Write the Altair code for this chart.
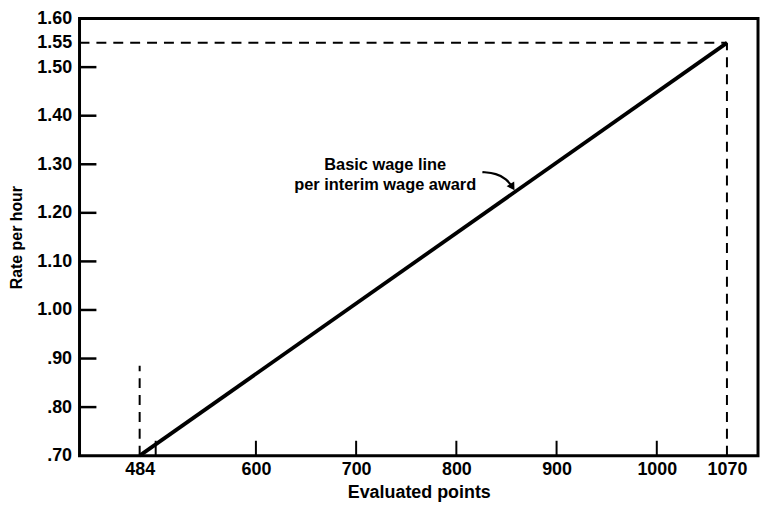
import altair as alt
import pandas as pd

# Data
line_x = [484, 1070]
line_y = [0.70, 1.55]
x_label_values = [484, 600, 700, 800, 900, 1000, 1070]
x_tick_values = [500, 600, 700, 800, 900, 1000]
y_label_values = [0.70, 0.80, 0.90, 1.00, 1.10, 1.20, 1.30, 1.40, 1.50, 1.55, 1.60]
y_tick_values = [0.80, 0.90, 1.00, 1.10, 1.20, 1.30, 1.40, 1.50]
note_lines = ["Basic wage line", "per interim wage award"]
note_x = [729, 729]
note_y = [1.298, 1.257]
arrow_x = [826, 840, 850, 856]
arrow_y = [1.284, 1.281, 1.270, 1.253]

X_DOMAIN = [424, 1101]
Y_DOMAIN = [0.70, 1.60]
FONT = "Liberation Sans"

xs = alt.Scale(domain=X_DOMAIN, nice=False, zero=False)
ys = alt.Scale(domain=Y_DOMAIN, nice=False, zero=False)

main_df = pd.DataFrame({"x": line_x, "y": line_y})

base_axes = alt.Chart(main_df).mark_line(color="black", strokeWidth=3.8).encode(
    x=alt.X("x:Q", scale=xs, title="Evaluated points",
            axis=alt.Axis(values=x_label_values, format="d", ticks=False, domain=False, grid=False,
                          labelFont=FONT, labelFontSize=18, labelFontWeight="bold",
                          labelColor="black", labelPadding=5, labelFlush=False,
                          labelOverlap=False,
                          titleFont=FONT, titleFontSize=18, titleFontWeight="bold",
                          titleColor="black", titlePadding=5)),
    y=alt.Y("y:Q", scale=ys, title="Rate per hour",
            axis=alt.Axis(values=y_label_values, ticks=False, domain=False, grid=False,
                          labelExpr="datum.value >= 1 ? format(datum.value, '.2f') : replace(format(datum.value, '.2f'), '0.', '.')",
                          labelFont=FONT, labelFontSize=18, labelFontWeight="bold",
                          labelColor="black", labelPadding=8, labelFlush=False,
                          labelOverlap=False,
                          titleFont=FONT, titleFontSize=16, titleFontWeight="bold",
                          titleColor="black", titlePadding=12)),
)

ytick_df = pd.DataFrame({"y": y_tick_values})
yticks = alt.Chart(ytick_df).mark_rule(color="black", strokeWidth=2.5).encode(
    y=alt.Y("y:Q", scale=ys), x=alt.value(0), x2=alt.value(17))

xtick_df = pd.DataFrame({"x": x_tick_values})
xticks = alt.Chart(xtick_df).mark_rule(color="black", strokeWidth=2).encode(
    x=alt.X("x:Q", scale=xs), y=alt.value(440), y2=alt.value(425))

dash = [10, 7]
h_df = pd.DataFrame({"x": [X_DOMAIN[0]], "x2": [line_x[1]], "y": [line_y[1]]})
hdash = alt.Chart(h_df).mark_rule(color="black", strokeWidth=2, strokeDash=dash).encode(
    x=alt.X("x:Q", scale=xs), x2="x2:Q", y=alt.Y("y:Q", scale=ys))

v_df = pd.DataFrame({"x": [484, 1070], "y": [0.70, 0.70], "y2": [0.885, 1.55]})
vdash = alt.Chart(v_df).mark_rule(color="black", strokeWidth=2, strokeDash=dash).encode(
    x=alt.X("x:Q", scale=xs), y=alt.Y("y:Q", scale=ys), y2="y2:Q")

note_df = pd.DataFrame({"x": note_x, "y": note_y, "t": note_lines})
note = alt.Chart(note_df).mark_text(font=FONT, fontSize=16.5, fontWeight="bold",
                                    color="black", align="center", baseline="middle").encode(
    x=alt.X("x:Q", scale=xs), y=alt.Y("y:Q", scale=ys), text="t:N")

arrow_df = pd.DataFrame({"x": arrow_x, "y": arrow_y, "o": list(range(len(arrow_x)))})
arrow = alt.Chart(arrow_df).mark_line(color="black", strokeWidth=2.2, interpolate="basis").encode(
    x=alt.X("x:Q", scale=xs), y=alt.Y("y:Q", scale=ys), order="o:Q")

head_df = pd.DataFrame({"x": [arrow_x[-1]], "y": [arrow_y[-1]]})
head = alt.Chart(head_df).mark_point(shape="triangle-right", filled=True, color="black",
                                      size=80, angle=58, opacity=1).encode(
    x=alt.X("x:Q", scale=xs), y=alt.Y("y:Q", scale=ys))

chart = alt.layer(hdash, vdash, yticks, xticks, base_axes, note, arrow, head).properties(
    width=683, height=440,
    autosize=alt.AutoSizeParams(type="none"),
    padding={"left": 72, "top": 9, "right": 2, "bottom": 45},
    background="white",
).configure_view(stroke="black", strokeWidth=3)

chart.save("out.html", embed_options={"renderer": "svg", "actions": False})
